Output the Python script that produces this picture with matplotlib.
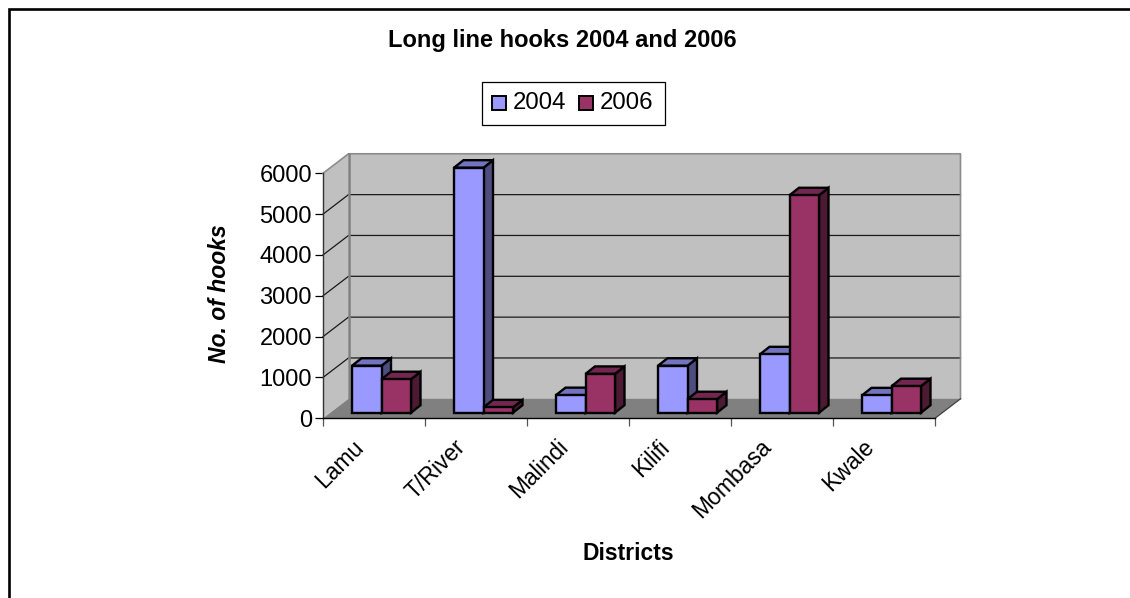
import matplotlib
matplotlib.use('Agg')
import matplotlib.pyplot as plt
from matplotlib.patches import Polygon, Rectangle

plt.rcParams['font.family'] = ['Liberation Sans', 'DejaVu Sans']

districts = ['Lamu', 'T/River', 'Malindi', 'Kilifi', 'Mombasa', 'Kwale']
hooks_2004 = [1150, 6000, 430, 1150, 1430, 425]
hooks_2006 = [820, 130, 950, 330, 5325, 650]
yticks = [0, 1000, 2000, 3000, 4000, 5000, 6000]

W, H = 1130, 598
fig = plt.figure(figsize=(W / 100, H / 100), dpi=100)

# frame: only the top and left sides are drawn
frame = fig.add_axes([0, 0, 1, 1])
frame.set_xlim(0, W)
frame.set_ylim(H, 0)
frame.axis('off')
frame.plot([9, 9, W], [H, 9, 9], color='black', lw=1.9, solid_joinstyle='miter')

# axes rectangle is the front plane of the box
left, right, bottom, top = 323, 935, 418.3, 173.3
ax = fig.add_axes([left / W, 1 - bottom / H, (right - left) / W, (bottom - top) / H])
ax.set_xlim(0, 6)
ax.set_ylim(0, 6000)
ax.patch.set_alpha(0)

ux = (right - left) / 6
uy = (bottom - top) / 6000
dep_x = 25.5 / ux
dep_y = 19.5 / uy


def quad(pts, color, lw=0.0, edge='none', z=1):
    ax.add_patch(Polygon(pts, closed=True, facecolor=color, edgecolor=edge, lw=lw,
                         zorder=z, clip_on=False, joinstyle='miter'))


# back wall, side wall and floor
quad([(dep_x, dep_y), (6 + dep_x, dep_y), (6 + dep_x, 6000 + dep_y), (dep_x, 6000 + dep_y)], '#c0c0c0')
quad([(0, 0), (dep_x, dep_y), (dep_x, 6000 + dep_y), (0, 6000)], '#c0c0c0')
quad([(0, 0), (6, 0), (6 + dep_x, dep_y), (dep_x, dep_y)], '#808080')

# gridlines on the walls
for v in yticks[1:-1]:
    ax.plot([0, dep_x, 6 + dep_x], [v, v + dep_y, v + dep_y], color='#1a1a1a', lw=0.9, zorder=2, clip_on=False)
ax.plot([0, dep_x, 6 + dep_x, 6 + dep_x], [6000, 6000 + dep_y, 6000 + dep_y, dep_y],
        color='#8c8c8c', lw=1.2, zorder=2, clip_on=False)
ax.plot([dep_x, dep_x], [dep_y, 6000 + dep_y], color='#808080', lw=1.8, zorder=2, clip_on=False)
ax.plot([6, 6 + dep_x], [0, dep_y], color='#404040', lw=0.9, zorder=2, clip_on=False)


# one 3D bar: front, top and right faces
def bar3d(x0, w, val, front, topc, side, z):
    base = 5.6 / uy
    bx = 9.5 / ux
    by = 7.5 / uy
    y0, y1 = base, base + val
    quad([(x0 + w, y0), (x0 + w + bx, y0 + by), (x0 + w + bx, y1 + by), (x0 + w, y1)],
         side, 1.7, 'black', z)
    quad([(x0, y1), (x0 + bx, y1 + by), (x0 + w + bx, y1 + by), (x0 + w, y1)],
         topc, 1.7, 'black', z)
    quad([(x0, y0), (x0 + w, y0), (x0 + w, y1), (x0, y1)], front, 1.7, 'black', z)


bar_w = 29.5 / ux
for i in range(len(districts)):
    x0 = i + 29 / ux
    bar3d(x0, bar_w, hooks_2004[i], '#9999ff', '#7373bf', '#4d4d80', 3 + 2 * i)
    bar3d(x0 + bar_w, bar_w, hooks_2006[i], '#993366', '#732650', '#4d1a33', 4 + 2 * i)

# axes lines and ticks
for s in ['top', 'right']:
    ax.spines[s].set_visible(False)
ax.spines['left'].set_linewidth(1.0)
ax.spines['left'].set_color('#333333')
ax.spines['bottom'].set_linewidth(1.0)
ax.spines['left'].set_zorder(30)
ax.spines['bottom'].set_zorder(30)
ax.set_yticks(yticks)
ax.set_xticks(range(7))
ax.set_xticklabels([])
ax.tick_params(axis='y', length=6, width=0.9, labelsize=17, pad=2)
ax.tick_params(axis='x', length=6, width=0.9, color='#555555')

for i, name in enumerate(districts):
    ax.annotate(name, xy=(i + 0.5, 0), xytext=(-22, -17), textcoords='offset pixels',
                rotation=45, ha='right', va='top', rotation_mode='anchor',
                fontsize=16.5, annotation_clip=False)

frame.text(562, 41, 'Long line hooks 2004 and 2006', ha='center', va='center', fontsize=17, fontweight='bold')
frame.text(628, 553, 'Districts', ha='center', va='center', fontsize=16.5, fontweight='bold')
frame.text(220, 294, 'No. of hooks', ha='center', va='center', rotation=90, fontsize=16.5,
           fontweight='bold', fontstyle='italic')

# legend box
frame.add_patch(Rectangle((482, 82), 183, 43, facecolor='white', edgecolor='black', lw=0.9))
frame.add_patch(Rectangle((492, 96), 14, 14, facecolor='#9999ff', edgecolor='black', lw=1.4))
frame.add_patch(Rectangle((579, 96), 14, 14, facecolor='#993366', edgecolor='black', lw=1.4))
frame.text(513, 103, '2004', ha='left', va='center', fontsize=17.3)
frame.text(600, 103, '2006', ha='left', va='center', fontsize=17.3)

fig.savefig('out.png', dpi=100, facecolor='white')
